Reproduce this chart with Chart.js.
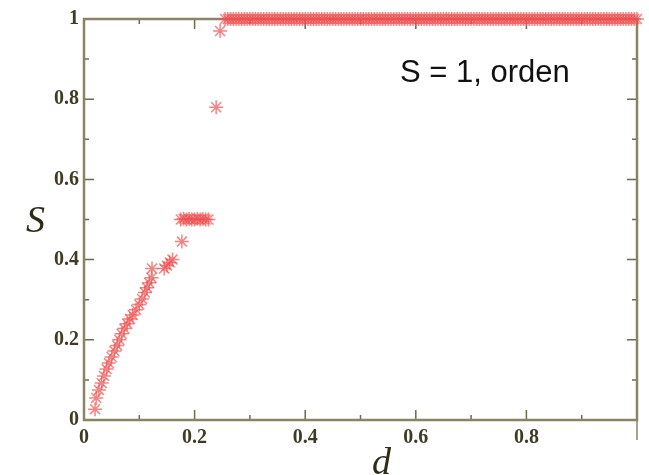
<!DOCTYPE html>
<html>
<head>
<meta charset="utf-8">
<script src="https://cdn.jsdelivr.net/npm/chart.js@4.4.0/dist/chart.umd.min.js"></script>
<style>
html,body{margin:0;padding:0;background:#fff;}
#wrap{width:649px;height:475px;position:relative;}
</style>
</head>
<body>
<div id="wrap"><canvas id="c" width="649" height="475"></canvas></div>
<script>
// ---- data ----
const dLow = [0.020,0.022,0.027,0.032,0.036,0.041,0.045,0.050,0.055,0.060,0.064,0.068,0.073,0.078,0.083,0.088,0.094,0.100,0.105,0.110,0.114,0.118,0.122,0.123,0.145,0.150,0.155,0.160,0.177];
const sLow = [0.027,0.055,0.075,0.092,0.110,0.127,0.142,0.157,0.172,0.186,0.200,0.215,0.228,0.240,0.252,0.262,0.275,0.288,0.302,0.318,0.330,0.342,0.355,0.378,0.378,0.385,0.393,0.400,0.445];
const dMid = [0.175,0.180,0.185,0.190,0.195,0.200,0.205,0.210,0.215,0.220,0.225,0.239,0.246];
const sMid = [0.500,0.502,0.500,0.501,0.500,0.500,0.502,0.500,0.501,0.500,0.500,0.780,0.970];
const dHigh = [0.255,0.26,0.265,0.27,0.275,0.28,0.285,0.29,0.295,0.30,0.305,0.31,0.315,0.32,0.325,0.33,0.335,0.34,0.345,0.35,0.355,0.36,0.365,0.37,0.375,0.38,0.385,0.39,0.395,0.40,0.405,0.41,0.415,0.42,0.425,0.43,0.435,0.44,0.445,0.45,0.455,0.46,0.465,0.47,0.475,0.48,0.485,0.49,0.495,0.50,0.505,0.51,0.515,0.52,0.525,0.53,0.535,0.54,0.545,0.55,0.555,0.56,0.565,0.57,0.575,0.58,0.585,0.59,0.595,0.60,0.605,0.61,0.615,0.62,0.625,0.63,0.635,0.64,0.645,0.65,0.655,0.66,0.665,0.67,0.675,0.68,0.685,0.69,0.695,0.70,0.705,0.71,0.715,0.72,0.725,0.73,0.735,0.74,0.745,0.75,0.755,0.76,0.765,0.77,0.775,0.78,0.785,0.79,0.795,0.80,0.805,0.81,0.815,0.82,0.825,0.83,0.835,0.84,0.845,0.85,0.855,0.86,0.865,0.87,0.875,0.88,0.885,0.89,0.895,0.90,0.905,0.91,0.915,0.92,0.925,0.93,0.935,0.94,0.945,0.95,0.955,0.96,0.965,0.97,0.975,0.98,0.985,0.99,0.995,1.0];
const sHigh = dHigh.map(() => 1.0);
const xTickLabels = ['0','','0.2','','0.4','','0.6','','0.8','',''];
const yTickLabels = ['0','','0.2','','0.4','','0.6','','0.8','','1'];
const annotation = 'S = 1, orden';
const xTitle = 'd';
const yTitle = 'S';

const dAll = dLow.concat(dMid, dHigh);
const sAll = sLow.concat(sMid, sHigh);
const points = dAll.map((d, i) => ({x: d, y: sAll[i]}));

const AXIS = '#8a8466';
const TICK = '#6e6a4e';
const LABEL = '#3f3b24';

const framePlugin = {
  id: 'frame',
  beforeDatasetsDraw(chart) {
    const {ctx, chartArea: a, scales: {x, y}} = chart;
    ctx.save();
    ctx.strokeStyle = TICK;
    ctx.lineWidth = 1.5;
    x.ticks.forEach((t, i) => {
      const px = x.getPixelForValue(t.value);
      const len = (i % 2 === 0) ? 10 : 5;
      ctx.beginPath();
      ctx.moveTo(px, a.bottom); ctx.lineTo(px, a.bottom - len);
      ctx.moveTo(px, a.top); ctx.lineTo(px, a.top + len);
      ctx.stroke();
    });
    y.ticks.forEach((t, i) => {
      const py = y.getPixelForValue(t.value);
      const len = (i % 2 === 0) ? 10 : 5;
      ctx.beginPath();
      ctx.moveTo(a.left, py); ctx.lineTo(a.left + len, py);
      ctx.moveTo(a.right, py); ctx.lineTo(a.right - len, py);
      ctx.stroke();
    });
    ctx.strokeStyle = AXIS;
    ctx.lineWidth = 2.5;
    ctx.strokeRect(a.left, a.top, a.right - a.left, a.bottom - a.top);
    ctx.lineWidth = 1.5;
    ctx.beginPath();
    ctx.moveTo(a.right, a.bottom); ctx.lineTo(a.right, a.bottom + 20);
    ctx.stroke();
    ctx.restore();
  },
  afterDraw(chart) {
    const {ctx} = chart;
    ctx.save();
    ctx.fillStyle = '#111';
    ctx.font = '31px "Liberation Sans", Arial, sans-serif';
    ctx.textBaseline = 'alphabetic';
    ctx.textAlign = 'left';
    ctx.fillText(annotation, 400, 82);
    ctx.fillStyle = '#2e2b18';
    ctx.font = 'italic 38px "Liberation Serif", "Times New Roman", serif';
    ctx.fillText(yTitle, 26, 232);
    ctx.fillText(xTitle, 372, 474);
    ctx.restore();
  }
};

new Chart(document.getElementById('c'), {
  type: 'scatter',
  data: {
    datasets: [{
      data: points,
      pointStyle: 'star',
      pointRadius: 7,
      pointBorderWidth: 1.5,
      borderColor: 'rgba(238,80,80,0.7)',
      backgroundColor: 'rgba(238,80,80,0.7)',
      clip: false
    }]
  },
  options: {
    responsive: false,
    animation: false,
    devicePixelRatio: 1,
    layout: {padding: {top: 19, right: 12, left: 0, bottom: 0}},
    plugins: {legend: {display: false}, tooltip: {enabled: false}},
    scales: {
      x: {
        type: 'linear', min: 0, max: 1,
        grid: {display: false, drawTicks: false},
        border: {display: false},
        ticks: {
          stepSize: 0.1, padding: 6, maxRotation: 0, autoSkip: false,
          color: LABEL,
          font: {family: '"Liberation Serif", "Times New Roman", serif', size: 20, weight: 'bold'},
          callback: (v, i) => xTickLabels[i]
        },
        afterFit(s) { s.height = 55; }
      },
      y: {
        type: 'linear', min: 0, max: 1,
        grid: {display: false, drawTicks: false},
        border: {display: false},
        ticks: {
          stepSize: 0.1, padding: 5, autoSkip: false,
          color: LABEL,
          font: {family: '"Liberation Serif", "Times New Roman", serif', size: 20, weight: 'bold'},
          callback: (v, i) => yTickLabels[i]
        },
        afterFit(s) { s.width = 84; }
      }
    }
  },
  plugins: [framePlugin]
});
</script>
</body>
</html>
